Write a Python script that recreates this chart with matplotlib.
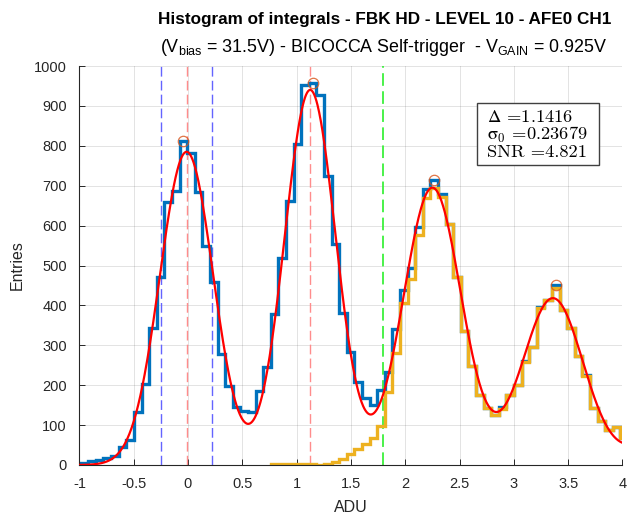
import numpy as np
import matplotlib
matplotlib.use("Agg")
import matplotlib.pyplot as plt
from matplotlib.patches import Rectangle

# --- histogram binning (ADU) ---
bin_start = -1.058
bin_width = 0.07

# all events, one value per bin starting at bin_start
counts_all = [5, 6, 10, 13, 17, 22, 44, 63, 132, 202,
              343, 470, 660, 688, 812, 782, 684, 548, 459, 279,
              199, 146, 136, 132, 186, 245, 378, 519, 661, 805,
              952, 958, 927, 724, 554, 382, 283, 209, 167, 151,
              188, 234, 341, 439, 494, 597, 692, 715, 678, 603,
              470, 336, 247, 176, 142, 126, 145, 176, 201, 261,
              295, 395, 414, 450, 389, 343, 274, 226, 142, 110,
              88, 94, 67]

# self-trigger events, one value per bin starting at trig_start
trig_start = 0.762
counts_trig = [2, 2, 2, 2, 2, 3, 0, 2, 8, 14,
               27, 40, 53, 68, 98, 184, 280, 405, 466, 577,
               669, 695, 671, 603, 470, 336, 247, 176, 142, 126,
               140, 176, 201, 259, 295, 393, 414, 443, 389, 343,
               274, 222, 142, 110, 88, 94, 67]

# multi-gaussian fit
fit_amp = [785, 940, 695, 418, 100]
fit_mu = [-0.013, 1.125, 2.25, 3.36, 4.5]
fit_sigma = [0.245, 0.235, 0.265, 0.28, 0.3]

delta = 1.1416
sigma0 = 0.23679
snr = 4.821
threshold = 1.793

plt.rcParams['font.family'] = ['Liberation Sans', 'DejaVu Sans']
plt.rcParams['mathtext.default'] = 'regular'

fig = plt.figure(figsize=(6.27, 5.15), dpi=100)
ax = fig.add_axes([0.1266, 0.0971, 0.8661, 0.7747])

edges_all = bin_start + bin_width * np.arange(len(counts_all) + 1)
edges_trig = trig_start + bin_width * np.arange(len(counts_trig) + 1)
centers = 0.5 * (edges_all[:-1] + edges_all[1:])

# reference lines
dash = dict(lw=1.0, dashes=(7, 3), zorder=1.5)
ax.axvline(fit_mu[0] - sigma0, color='#6464ff', **dash)
ax.axvline(fit_mu[0] + sigma0, color='#6464ff', **dash)
ax.axvline(fit_mu[0], color='#ff8c8c', **dash)
ax.axvline(fit_mu[1], color='#ff8c8c', **dash)
ax.axvline(threshold, color='#3cf03c', lw=1.3, dashes=(7, 3), zorder=1.5)

ax.stairs(counts_all, edges_all, color='#0072BD', lw=2.4, zorder=2)
ax.stairs(counts_trig, edges_trig, color='#EDB120', lw=2.4, zorder=2.1)

xf = np.linspace(-1, 4, 1000)
yf = np.zeros_like(xf)
for a, m, s in zip(fit_amp, fit_mu, fit_sigma):
    yf += a * np.exp(-(xf - m) ** 2 / (2 * s ** 2))
ax.plot(xf, yf, color='red', lw=1.6, zorder=3)

# peak markers: highest bin around each fitted peak
counts_arr = np.array(counts_all)
for m in fit_mu[:4]:
    sel = np.where(np.abs(centers - m) < 0.3)[0]
    i = sel[np.argmax(counts_arr[sel])]
    ax.plot(centers[i], counts_arr[i], 'o', mfc='none', mec='#D95319',
            ms=7.5, mew=0.9, alpha=0.8, zorder=4)

ax.set_xlim(-1, 4)
ax.set_ylim(0, 1000)
ax.set_xticks(np.arange(-1, 4.01, 0.5))
ax.set_xticklabels(['-1', '-0.5', '0', '0.5', '1', '1.5', '2', '2.5', '3', '3.5', '4'])
ax.set_yticks(np.arange(0, 1001, 100))
ax.grid(True, color='#262626', alpha=0.13, lw=0.7)
ax.set_axisbelow(True)
for side in ['top', 'right']:
    ax.spines[side].set_visible(False)
for side in ['left', 'bottom']:
    ax.spines[side].set_color('#262626')
    ax.spines[side].set_linewidth(0.8)
ax.tick_params(direction='in', length=4, width=0.7, colors='#262626',
               labelsize=10.5)
ax.tick_params(axis='x', pad=9)
ax.tick_params(axis='y', pad=9)
ax.set_xlabel('ADU', fontsize=11.5, color='#262626', labelpad=6)
ax.set_ylabel('Entries', fontsize=11.5, color='#262626', labelpad=7)

fig.text(0.614, 0.953, 'Histogram of integrals - FBK HD - LEVEL 10 - AFE0 CH1',
         ha='center', va='baseline', fontsize=12.3, fontweight='bold', color='black')
fig.text(0.612, 0.899,
         '(V$_{bias}$ = 31.5V) - BICOCCA Self-trigger  - V$_{GAIN}$ = 0.925V',
         ha='center', va='baseline', fontsize=12.9, color='black')

# annotation box with fit results
ax.add_patch(Rectangle((0.732, 0.752), 0.225, 0.155, transform=ax.transAxes,
                       fc='white', ec='#404040', lw=1.0, zorder=5))
box_txt = (r'$\Delta$ =' + f'{delta}' + '\n'
           + r'$\sigma_0$ =' + f'{sigma0}' + '\n'
           + 'SNR =' + f'{snr}')
ax.text(0.751, 0.893, box_txt, transform=ax.transAxes, ha='left', va='top',
        fontsize=13.3, family=['cmr10', 'DejaVu Serif'], math_fontfamily='cm',
        linespacing=0.98, zorder=6)

fig.savefig('out.png', dpi=100)
